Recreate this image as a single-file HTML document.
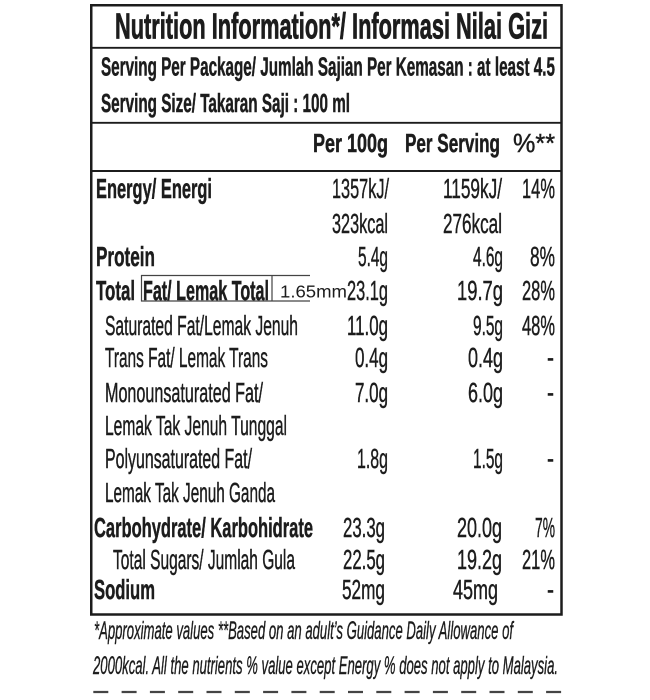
<!DOCTYPE html>
<html>
<head>
<meta charset="utf-8">
<style>
  html, body { margin: 0; padding: 0; background: #ffffff; }
  body { width: 650px; height: 700px; overflow: hidden; }
  svg { display: block; }
  text { font-family: "Liberation Sans", "DejaVu Sans", sans-serif; fill: #1c1c1c; stroke: #1c1c1c; stroke-width: 0.45; }
  .b { font-weight: bold; stroke-width: 0.5; }
  .t { font-weight: bold; stroke-width: 0.8; }
  .it { font-style: italic; stroke-width: 0.4; }
  .thin { stroke-width: 0; }
</style>
</head>
<body>
<svg width="650" height="700" viewBox="0 0 650 700" xmlns="http://www.w3.org/2000/svg">
  <rect x="0" y="0" width="650" height="700" fill="#ffffff"/>

  <!-- outer box -->
  <rect x="91.25" y="5.25" width="470.25" height="609.25" fill="none" stroke="#1c1c1c" stroke-width="2.5"/>
  <!-- separators -->
  <line x1="91" y1="47.8" x2="562" y2="47.8" stroke="#1c1c1c" stroke-width="1.8"/>
  <line x1="91" y1="122.8" x2="562" y2="122.8" stroke="#1c1c1c" stroke-width="1.8"/>
  <line x1="91" y1="171" x2="562" y2="171" stroke="#1c1c1c" stroke-width="2"/>

  <!-- title -->
  <text class="t" x="115" y="38.5" font-size="36" textLength="433" lengthAdjust="spacingAndGlyphs">Nutrition Information*/  Informasi Nilai Gizi</text>

  <!-- serving lines -->
  <text class="b" x="101" y="75.5" font-size="25.5" textLength="454" lengthAdjust="spacingAndGlyphs">Serving Per Package/ Jumlah Sajian Per Kemasan : at least 4.5</text>
  <text class="b" x="101" y="112" font-size="25.5" textLength="249" lengthAdjust="spacingAndGlyphs">Serving Size/ Takaran Saji : 100 ml</text>

  <!-- column headers -->
  <text class="b" x="313" y="152" font-size="26" textLength="75" lengthAdjust="spacingAndGlyphs">Per 100g</text>
  <text class="b" x="405" y="152" font-size="26" textLength="95" lengthAdjust="spacingAndGlyphs">Per Serving</text>
  <text x="513" y="152" font-size="26" textLength="42" lengthAdjust="spacingAndGlyphs">%**</text>

  <!-- Energy -->
  <text class="b" x="96" y="198" font-size="27.5" textLength="116" lengthAdjust="spacingAndGlyphs">Energy/ Energi</text>
  <text x="332" y="198" font-size="27.5" textLength="57" lengthAdjust="spacingAndGlyphs">1357kJ/</text>
  <text x="443" y="198" font-size="27.5" textLength="59" lengthAdjust="spacingAndGlyphs">1159kJ/</text>
  <text x="522" y="198" font-size="27.5" textLength="33" lengthAdjust="spacingAndGlyphs">14%</text>
  <text x="332" y="233" font-size="27.5" textLength="56" lengthAdjust="spacingAndGlyphs">323kcal</text>
  <text x="443" y="233" font-size="27.5" textLength="59" lengthAdjust="spacingAndGlyphs">276kcal</text>

  <!-- Protein -->
  <text class="b" x="96" y="266" font-size="27.5" textLength="59" lengthAdjust="spacingAndGlyphs">Protein</text>
  <text x="358" y="266" font-size="27.5" textLength="30" lengthAdjust="spacingAndGlyphs">5.4g</text>
  <text x="473" y="266" font-size="27.5" textLength="30" lengthAdjust="spacingAndGlyphs">4.6g</text>
  <text x="530" y="266" font-size="27.5" textLength="25" lengthAdjust="spacingAndGlyphs">8%</text>

  <!-- Total Fat -->
  <text class="b" x="96" y="300" font-size="27.5" textLength="39" lengthAdjust="spacingAndGlyphs">Total</text>
  <text class="b" x="143" y="300" font-size="27.5" textLength="126" lengthAdjust="spacingAndGlyphs">Fat/ Lemak Total</text>
  <line x1="141" y1="275.5" x2="310" y2="275.5" stroke="#444" stroke-width="1.2"/>
  <line x1="141" y1="301" x2="310" y2="301" stroke="#444" stroke-width="1.2"/>
  <line x1="141.5" y1="275" x2="141.5" y2="301.5" stroke="#444" stroke-width="1.2"/>
  <line x1="272" y1="275" x2="272" y2="301.5" stroke="#444" stroke-width="1.2"/>
  <text class="thin" x="280" y="297.5" font-size="17.5" textLength="67" lengthAdjust="spacingAndGlyphs" fill="#333">1.65mm</text>
  <text x="347" y="300" font-size="27.5" textLength="41" lengthAdjust="spacingAndGlyphs">23.1g</text>
  <text x="457" y="300" font-size="27.5" textLength="46" lengthAdjust="spacingAndGlyphs">19.7g</text>
  <text x="522" y="300" font-size="27.5" textLength="33" lengthAdjust="spacingAndGlyphs">28%</text>

  <!-- Saturated -->
  <text x="105" y="335" font-size="27.5" textLength="193" lengthAdjust="spacingAndGlyphs">Saturated Fat/Lemak Jenuh</text>
  <text x="347" y="335" font-size="27.5" textLength="41" lengthAdjust="spacingAndGlyphs">11.0g</text>
  <text x="473" y="335" font-size="27.5" textLength="30" lengthAdjust="spacingAndGlyphs">9.5g</text>
  <text x="522" y="335" font-size="27.5" textLength="33" lengthAdjust="spacingAndGlyphs">48%</text>

  <!-- Trans -->
  <text x="105" y="367" font-size="27.5" textLength="163" lengthAdjust="spacingAndGlyphs">Trans Fat/ Lemak Trans</text>
  <text x="355" y="367" font-size="27.5" textLength="33" lengthAdjust="spacingAndGlyphs">0.4g</text>
  <text x="468" y="367" font-size="27.5" textLength="35" lengthAdjust="spacingAndGlyphs">0.4g</text>
  <text x="547" y="367" font-size="27.5" textLength="7" lengthAdjust="spacingAndGlyphs">-</text>

  <!-- Mono -->
  <text x="105" y="402" font-size="27.5" textLength="158" lengthAdjust="spacingAndGlyphs">Monounsaturated Fat/</text>
  <text x="355" y="402" font-size="27.5" textLength="33" lengthAdjust="spacingAndGlyphs">7.0g</text>
  <text x="468" y="402" font-size="27.5" textLength="35" lengthAdjust="spacingAndGlyphs">6.0g</text>
  <text x="547" y="402" font-size="27.5" textLength="7" lengthAdjust="spacingAndGlyphs">-</text>
  <text x="105" y="435" font-size="27.5" textLength="182" lengthAdjust="spacingAndGlyphs">Lemak Tak Jenuh Tunggal</text>

  <!-- Poly -->
  <text x="105" y="468" font-size="27.5" textLength="147" lengthAdjust="spacingAndGlyphs">Polyunsaturated Fat/</text>
  <text x="357" y="468" font-size="27.5" textLength="31" lengthAdjust="spacingAndGlyphs">1.8g</text>
  <text x="473" y="468" font-size="27.5" textLength="30" lengthAdjust="spacingAndGlyphs">1.5g</text>
  <text x="547" y="468" font-size="27.5" textLength="7" lengthAdjust="spacingAndGlyphs">-</text>
  <text x="105" y="502" font-size="27.5" textLength="170" lengthAdjust="spacingAndGlyphs">Lemak Tak Jenuh Ganda</text>

  <!-- Carbohydrate -->
  <text class="b" x="94" y="537" font-size="27.5" textLength="219" lengthAdjust="spacingAndGlyphs">Carbohydrate/ Karbohidrate</text>
  <text x="343" y="537" font-size="27.5" textLength="42" lengthAdjust="spacingAndGlyphs">23.3g</text>
  <text x="457" y="537" font-size="27.5" textLength="45" lengthAdjust="spacingAndGlyphs">20.0g</text>
  <text x="535" y="537" font-size="27.5" textLength="20" lengthAdjust="spacingAndGlyphs">7%</text>

  <!-- Sugars -->
  <text x="113" y="569" font-size="27.5" textLength="182" lengthAdjust="spacingAndGlyphs">Total Sugars/ Jumlah Gula</text>
  <text x="343" y="569" font-size="27.5" textLength="42" lengthAdjust="spacingAndGlyphs">22.5g</text>
  <text x="457" y="569" font-size="27.5" textLength="45" lengthAdjust="spacingAndGlyphs">19.2g</text>
  <text x="522" y="569" font-size="27.5" textLength="33" lengthAdjust="spacingAndGlyphs">21%</text>

  <!-- Sodium -->
  <text class="b" x="94" y="599" font-size="27.5" textLength="61" lengthAdjust="spacingAndGlyphs">Sodium</text>
  <text x="342" y="599" font-size="27.5" textLength="43" lengthAdjust="spacingAndGlyphs">52mg</text>
  <text x="453" y="599" font-size="27.5" textLength="45" lengthAdjust="spacingAndGlyphs">45mg</text>
  <text x="547" y="599" font-size="27.5" textLength="7" lengthAdjust="spacingAndGlyphs">-</text>

  <!-- footnote -->
  <text class="it" x="94" y="639" font-size="25" textLength="419" lengthAdjust="spacingAndGlyphs">*Approximate values  **Based on an adult’s  Guidance Daily Allowance of</text>
  <text class="it" x="93" y="674" font-size="25" textLength="465" lengthAdjust="spacingAndGlyphs">2000kcal. All the nutrients % value except Energy % does not apply to Malaysia.</text>

  <!-- dashed cut line -->
  <line x1="93.3" y1="692" x2="562" y2="692" stroke="#444" stroke-width="2.2" stroke-dasharray="15 13.3"/>
</svg>
</body>
</html>
